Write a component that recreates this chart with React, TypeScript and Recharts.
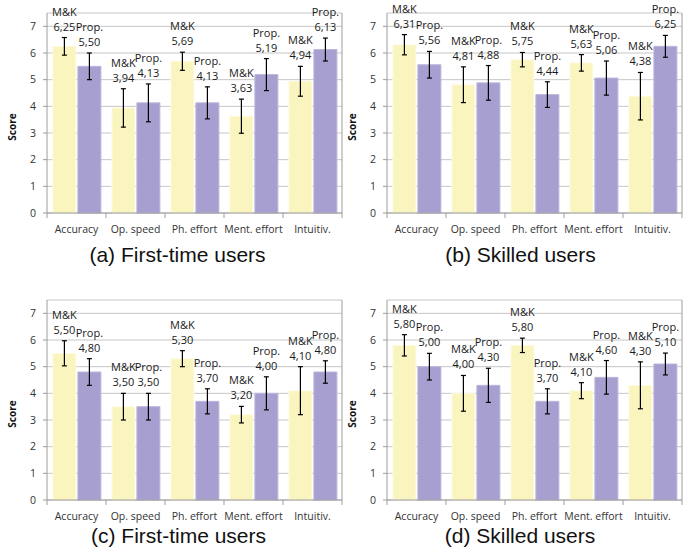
import React from "react";
import { Bar, BarChart, CartesianGrid, ErrorBar, LabelList, XAxis, YAxis } from "recharts";

const categories = ["Accuracy", "Op. speed", "Ph. effort", "Ment. effort", "Intuitiv."];
const scoreTicks = [0, 1, 2, 3, 4, 5, 6, 7];

// (a) first-time users
const aMk = [6.25, 3.94, 5.69, 3.63, 4.94];
const aMkErr = [0.33, 0.72, 0.34, 0.64, 0.56];
const aProp = [5.5, 4.13, 4.13, 5.19, 6.13];
const aPropErr = [0.5, 0.71, 0.6, 0.6, 0.43];

// (b) skilled users
const bMk = [6.31, 4.81, 5.75, 5.63, 4.38];
const bMkErr = [0.38, 0.67, 0.27, 0.31, 0.89];
const bProp = [5.56, 4.88, 4.44, 5.06, 6.25];
const bPropErr = [0.5, 0.65, 0.48, 0.64, 0.41];

// (c) first-time users
const cMk = [5.5, 3.5, 5.3, 3.2, 4.1];
const cMkErr = [0.47, 0.5, 0.3, 0.31, 0.9];
const cProp = [4.8, 3.5, 3.7, 4.0, 4.8];
const cPropErr = [0.5, 0.5, 0.47, 0.62, 0.42];

// (d) skilled users
const dMk = [5.8, 4.0, 5.8, 4.1, 4.3];
const dMkErr = [0.4, 0.67, 0.27, 0.3, 0.88];
const dProp = [5.0, 4.3, 3.7, 4.6, 5.1];
const dPropErr = [0.5, 0.64, 0.47, 0.63, 0.41];

const YELLOW = "#faf5bf";
const PURPLE = "#a69fcf";
const AXIS = "#9c9c9c";
const GRID = "#c6c6c6";
const FONT = "'Open Sans', sans-serif";

function buildRows(mk: number[], mkErr: number[], prop: number[], propErr: number[]) {
  return categories.map((name, i) => ({
    name,
    mk: mk[i],
    mkErr: mkErr[i],
    prop: prop[i],
    propErr: propErr[i],
  }));
}

const fmt = (v: number) => v.toFixed(2).replace(".", ",");

// two-line "M&K / 6,25" label sitting just above the error bar cap
function PairLabel(props: any) {
  const { name, errs } = props;
  const vb = props.viewBox || {};
  const x = props.x ?? vb.x;
  const y = props.y ?? vb.y;
  const width = props.width ?? vb.width;
  const height = props.height ?? vb.height;
  const value = Number(props.value);
  const idx = props.index ?? 0;
  if (x == null || !value) return null;
  const pxPerUnit = Math.abs(height) / value;
  const top = y - errs[idx] * pxPerUnit;
  const cx = x + width / 2;
  return (
    <g fontFamily={FONT} fontSize={11} fill="#1a1a1a" textAnchor="middle">
      <text x={cx} y={top - 22}>{name}</text>
      <text x={cx} y={top - 7}>{fmt(value)}</text>
    </g>
  );
}

// excel-style category axis: tick marks on the band edges, label in the middle
function CategoryTick(props: any) {
  const { x, y, payload, index, width, visibleTicksCount } = props;
  const axisY = y - 9;
  const band = typeof width === "number" && visibleTicksCount ? width / visibleTicksCount : 0;
  return (
    <g>
      {band > 0 && (
        <line x1={x - band / 2} x2={x - band / 2} y1={axisY} y2={axisY + 5} stroke={AXIS} />
      )}
      {band > 0 && index === visibleTicksCount - 1 && (
        <line x1={x + band / 2} x2={x + band / 2} y1={axisY} y2={axisY + 5} stroke={AXIS} />
      )}
      <text x={x} y={axisY + 20} textAnchor="middle" fontFamily={FONT} fontSize={10.5} fill="#333">
        {payload.value}
      </text>
    </g>
  );
}

function Panel({ rows, mkErr, propErr }: { rows: any[]; mkErr: number[]; propErr: number[] }) {
  return (
    <BarChart
      width={344}
      height={240}
      data={rows}
      margin={{ top: 13, right: 1, left: 0, bottom: 0 }}
      barCategoryGap="10%"
      barGap={2}
    >
      <CartesianGrid horizontal vertical={false} stroke={GRID} />
      <XAxis xAxisId="top" orientation="top" height={0} tick={false} tickLine={false} axisLine={{ stroke: AXIS }} />
      <XAxis
        dataKey="name"
        height={27}
        interval={0}
        tickLine={false}
        tickSize={5}
        tickMargin={4}
        axisLine={{ stroke: AXIS }}
        tick={<CategoryTick />}
      />
      <YAxis
        domain={[0, 7.5]}
        ticks={scoreTicks}
        interval={0}
        width={47}
        tickSize={4}
        tickMargin={7}
        tickLine={{ stroke: AXIS }}
        axisLine={{ stroke: AXIS }}
        tick={{ fontFamily: FONT, fontSize: 10.5, fill: "#333" }}
        label={{
          value: "Score",
          angle: -90,
          position: "insideLeft",
          offset: 12,
          dy: 14,
          style: { fontFamily: FONT, fontSize: 10, fontWeight: 700, fill: "#111", textAnchor: "middle" },
        }}
      />
      <YAxis yAxisId="frame" orientation="right" width={1} tick={false} tickLine={false} axisLine={{ stroke: AXIS }} />
      <Bar dataKey="mk" fill={YELLOW} stroke="#fdfbe3" strokeWidth={1} isAnimationActive={false}>
        <ErrorBar dataKey="mkErr" width={2.5} stroke="#000" strokeWidth={1.2} isAnimationActive={false} />
        <LabelList dataKey="mk" content={(p: any) => <PairLabel {...p} name="M&K" errs={mkErr} />} />
      </Bar>
      <Bar dataKey="prop" fill={PURPLE} stroke="#bcb6dc" strokeWidth={1} isAnimationActive={false}>
        <ErrorBar dataKey="propErr" width={2.5} stroke="#000" strokeWidth={1.2} isAnimationActive={false} />
        <LabelList dataKey="prop" content={(p: any) => <PairLabel {...p} name="Prop." errs={propErr} />} />
      </Bar>
    </BarChart>
  );
}

const panels = [
  { key: "a", left: 0, top: 0, caption: "(a) First-time users", capCenter: 177.5, capTop: 244, mk: aMk, mkErr: aMkErr, prop: aProp, propErr: aPropErr },
  { key: "b", left: 340, top: 0, caption: "(b) Skilled users", capCenter: 520.5, capTop: 244, mk: bMk, mkErr: bMkErr, prop: bProp, propErr: bPropErr },
  { key: "c", left: 0, top: 287, caption: "(c) First-time users", capCenter: 178.5, capTop: 525, mk: cMk, mkErr: cMkErr, prop: cProp, propErr: cPropErr },
  { key: "d", left: 340, top: 287, caption: "(d) Skilled users", capCenter: 520, capTop: 525, mk: dMk, mkErr: dMkErr, prop: dProp, propErr: dPropErr },
];

export default function App() {
  return (
    <div style={{ position: "absolute", left: 0, top: 0, width: 688, height: 556, background: "#fff", overflow: "hidden" }}>
      {panels.map((p) => (
        <React.Fragment key={p.key}>
          <div style={{ position: "absolute", left: p.left, top: p.top }}>
            <Panel rows={buildRows(p.mk, p.mkErr, p.prop, p.propErr)} mkErr={p.mkErr} propErr={p.propErr} />
          </div>
          <div
            style={{
              position: "absolute",
              left: p.capCenter - 150,
              width: 300,
              top: p.capTop,
              textAlign: "center",
              fontFamily: "'Liberation Sans', Arial, sans-serif",
              fontSize: 21,
              lineHeight: "21px",
              color: "#111",
              whiteSpace: "nowrap",
            }}
          >
            {p.caption}
          </div>
        </React.Fragment>
      ))}
    </div>
  );
}
